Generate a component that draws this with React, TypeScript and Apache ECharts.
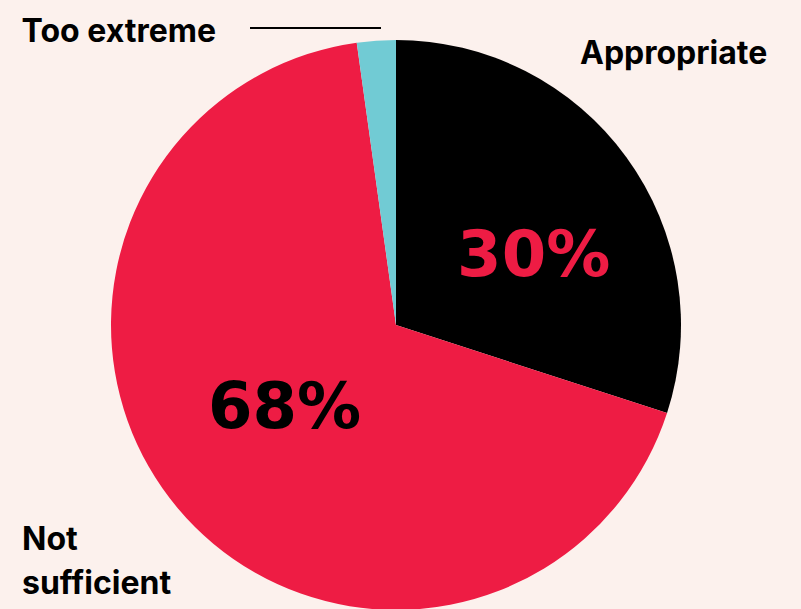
import React, { useEffect, useRef } from "react";
import * as echarts from "echarts";

const categories = ["Appropriate", "Not sufficient", "Too extreme"];
const values = [30, 67.8, 2.2];
const colors = ["#000000", "#ee1c44", "#71cbd4"];
const percentColors = ["#ee1c44", "#000000", "#000000"];
const showPercent = [true, true, false];

export default function App() {
  const ref = useRef<HTMLDivElement>(null);
  useEffect(() => {
    document.body.style.margin = "0";
    const chart = echarts.init(ref.current!, null, { renderer: "svg" });
    const center = [396, 325];
    const radius = 285;
    const nameLayouts: any[] = [
      { x: 580, y: 52, align: "left", verticalAlign: "middle" },
      { x: 22, y: 560, align: "left", verticalAlign: "middle" },
      {
        x: 216,
        y: 30,
        align: "right",
        verticalAlign: "middle",
        labelLinePoints: [
          [381, 28],
          [300, 28],
          [250, 28],
        ],
      },
    ];
    const percentOffsets = [
      [20, 15],
      [0, -12],
      [0, 0],
    ];
    chart.setOption({
      animation: false,
      backgroundColor: "#fcf1ed",
      series: [
        {
          type: "pie",
          center,
          radius,
          startAngle: 90,
          clockwise: true,
          silent: true,
          itemStyle: { borderWidth: 0 },
          labelLine: { show: false },
          data: categories.map((name, i) => ({
            name,
            value: values[i],
            itemStyle: { color: colors[i] },
            label: {
              show: showPercent[i],
              position: "inside",
              offset: percentOffsets[i],
              formatter: () => Math.round(values[i]) + "%",
              color: percentColors[i],
              fontFamily: "DejaVu Sans",
              fontWeight: "bold",
              fontSize: 64,
            },
          })),
        },
        {
          type: "pie",
          center,
          radius,
          startAngle: 90,
          clockwise: true,
          silent: true,
          itemStyle: { color: "transparent", borderWidth: 0 },
          label: {
            show: true,
            position: "outside",
            overflow: "none",
            formatter: (p: any) => p.name.replace(" ", "\n"),
            color: "#000000",
            fontFamily: "Inter",
            fontWeight: "bold",
            fontSize: 32,
            lineHeight: 44,
          },
          labelLine: { show: false, lineStyle: { color: "#000000", width: 2 } },
          labelLayout: (params: any) => nameLayouts[params.dataIndex],
          data: categories.map((name, i) => ({
            name,
            value: values[i],
            label: i === 2 ? { formatter: name } : undefined,
            labelLine: i === 2 ? { show: true, length: 10, length2: 10 } : undefined,
          })),
        },
      ],
    });
    return () => chart.dispose();
  }, []);
  return (
    <div
      ref={ref}
      style={{ position: "fixed", left: 0, top: 0, width: 801, height: 609 }}
    />
  );
}
